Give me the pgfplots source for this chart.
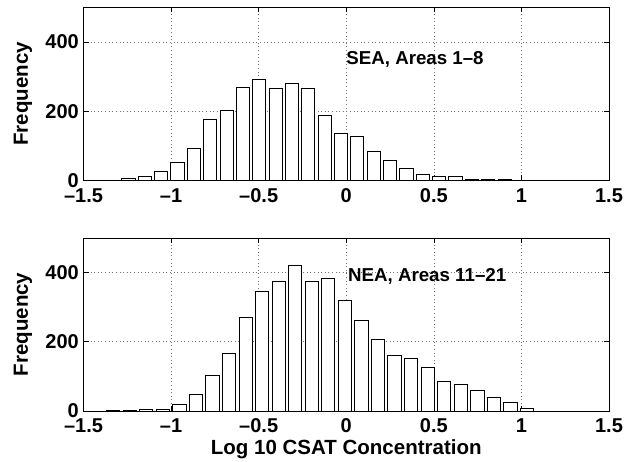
\documentclass[border=0pt]{standalone}
\usepackage{pgfplots}
\pgfplotsset{compat=1.18}
\usepackage{fontspec}
\setmainfont{Liberation Sans}
\pgfplotstableread{
x y
-1.244 5
-1.151 12
-1.057 25
-0.964 51
-0.871 94
-0.777 177
-0.684 204
-0.591 268
-0.497 291
-0.404 267
-0.311 281
-0.217 265
-0.124 188
-0.031 135
0.063 128
0.156 83
0.249 57
0.343 34
0.436 19
0.529 13
0.623 11
0.716 4
0.809 4
0.903 4
0.996 1
}\sea
\pgfplotstableread{
x y
-1.331 1
-1.237 2
-1.142 4
-1.048 5
-0.953 19
-0.859 48
-0.764 104
-0.670 167
-0.575 272
-0.481 346
-0.386 374
-0.292 420
-0.197 374
-0.103 384
-0.008 321
0.086 262
0.181 207
0.275 161
0.370 153
0.464 126
0.559 87
0.653 78
0.748 61
0.842 38
0.937 25
1.032 8
}\nea
\begin{document}
\fontsize{20}{22}\selectfont\bfseries
\begin{tikzpicture}
\path[use as bounding box] (0pt,0pt) rectangle (624pt,462pt);
\pgfplotsset{myax/.style={
  scale only axis, width=525.5pt, height=173pt, anchor=south west,
  xmin=-1.5, xmax=1.5, ymin=0, ymax=500,
  xtick={-1.5,-1,-0.5,0,0.5,1,1.5},
  xticklabels={--1.5,--1,--0.5,0,0.5,1,1.5},
  ytick={0,200,400},
  yticklabels={0,200,400},
  tick align=inside, major tick length=5pt,
  tick style={black, line width=0.6pt},
  axis line style={black, line width=0.8pt},
  grid=major,
  major grid style={black!55, line width=0.6pt, dash pattern=on 0.8pt off 2.8pt},
  ticklabel style={font=\fontsize{20}{22}\selectfont\bfseries},
  xticklabel style={anchor=base, yshift=-22pt, inner sep=0pt},
  yticklabel style={anchor=east, inner sep=0pt, xshift=-4.5pt},
  ylabel={Frequency},
  ylabel style={at={(axis description cs:-0.115,0.5)}, anchor=center, font=\fontsize{20.5}{22}\selectfont\bfseries},
}}
\begin{axis}[myax, at={(83.5pt,281.5pt)}]
\addplot[ybar, bar width=0.0747, fill=white, draw=black, line width=0.7pt] table[x=x,y=y] {\sea};
\node[anchor=west, inner sep=0pt, font=\fontsize{18.7}{21}\selectfont\bfseries] at (axis cs:0,350) {SEA, Areas 1--8};
\end{axis}
\begin{axis}[myax, at={(83.5pt,51pt)},
  xlabel={Log 10 CSAT Concentration},
  xlabel style={at={(axis description cs:0.5,-0.2543)}, anchor=base, inner sep=0pt, font=\fontsize{20.5}{22}\selectfont\bfseries}]
\addplot[ybar, bar width=0.0757, fill=white, draw=black, line width=0.7pt] table[x=x,y=y] {\nea};
\node[anchor=west, inner sep=0pt, font=\fontsize{18.7}{21}\selectfont\bfseries] at (axis cs:0.01,390) {NEA, Areas 11--21};
\end{axis}
\end{tikzpicture}
\end{document}
